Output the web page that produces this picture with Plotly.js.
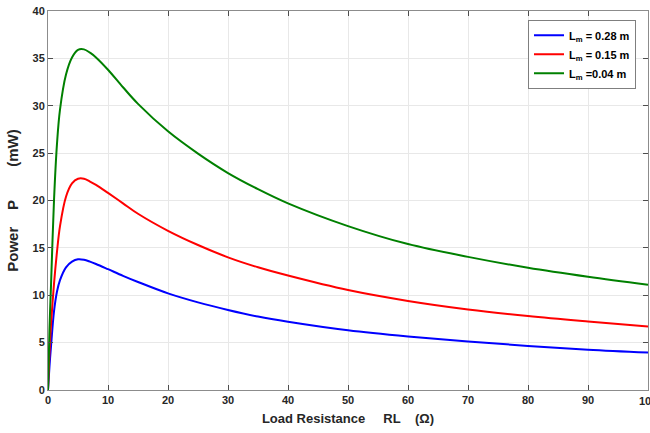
<!DOCTYPE html>
<html>
<head>
<meta charset="utf-8">
<script src="https://cdn.plot.ly/plotly-3.0.1.min.js"></script>
<style>html,body{margin:0;padding:0;background:#fff;}#chart{width:650px;height:433px;}</style>
</head>
<body>
<div id="chart"></div>
<script>
// Load resistance RL (Ohm)
const rl = [0, 0.25, 0.5, 1, 1.5, 2, 3, 4, 5, 6, 7, 8, 10, 12.5, 15, 20, 25, 30, 35, 40, 50, 60, 70, 80, 90, 100];
// Power P (mW) for each magnet length
const pLm028 = [0, 2.5, 4.6, 8.3, 10.4, 11.6, 12.95, 13.55, 13.8, 13.75, 13.55, 13.3, 12.75, 12.05, 11.4, 10.2, 9.25, 8.45, 7.75, 7.2, 6.3, 5.65, 5.12, 4.65, 4.25, 3.95];
const pLm015 = [0, 4.0, 6.9, 11.2, 14.6, 17.3, 20.4, 21.8, 22.3, 22.3, 22.0, 21.65, 20.8, 19.7, 18.6, 16.8, 15.3, 14.0, 12.95, 12.08, 10.55, 9.4, 8.5, 7.8, 7.22, 6.69];
const pLm004 = [0, 6.5, 11.0, 20.0, 26.0, 29.6, 33.3, 35.1, 35.9, 35.95, 35.6, 35.1, 33.8, 31.95, 30.2, 27.3, 24.95, 22.9, 21.2, 19.7, 17.3, 15.4, 14.05, 12.9, 11.95, 11.1];
const seriesNames = ['L<sub>m</sub> = 0.28 m', 'L<sub>m</sub> = 0.15 m', 'L<sub>m</sub> =0.04 m'];
const seriesColors = ['#0000ff', '#ff0000', '#008000'];
const xTicks = [0, 10, 20, 30, 40, 50, 60, 70, 80, 90, 100];
const yTicks = [0, 5, 10, 15, 20, 25, 30, 35, 40];

const ys = [pLm028, pLm015, pLm004];
const traces = ys.map((y, i) => ({
  x: rl, y: y, type: 'scatter', mode: 'lines', name: seriesNames[i],
  line: {color: seriesColors[i], width: 2, shape: 'spline', smoothing: 1}
}));

const fam = 'Liberation Sans, Arial, sans-serif';
const tickFont = {family: fam, size: 11, color: '#262626', weight: 'bold'};
const sp = n => '\u00a0'.repeat(n);
const axisCommon = {
  showline: true, linecolor: '#8c8c8c', linewidth: 1, mirror: 'ticks',
  ticks: 'inside', ticklen: 5, tickcolor: '#4d4d4d', tickwidth: 1,
  showgrid: true, gridcolor: '#e8e8e8', gridwidth: 1, zeroline: false,
  tickfont: tickFont
};
const layout = {
  width: 650, height: 433,
  margin: {l: 48, r: 2, t: 11, b: 43},
  paper_bgcolor: '#ffffff', plot_bgcolor: '#ffffff',
  showlegend: true,
  legend: {
    x: 0.98, y: 0.977, xanchor: 'right', yanchor: 'top',
    bgcolor: '#ffffff', bordercolor: '#7f7f7f', borderwidth: 1,
    font: {family: fam, size: 11, color: '#000', weight: 'bold'},
    tracegroupgap: 0
  },
  annotations: [{
    x: xTicks[xTicks.length - 1], y: 0, xref: 'x', yref: 'paper',
    text: String(xTicks[xTicks.length - 1]), showarrow: false,
    xanchor: 'center', yanchor: 'top', yshift: -3,
    font: tickFont
  }],
  xaxis: Object.assign({}, axisCommon, {
    range: [0, 100], tickvals: xTicks, ticktext: xTicks.map(String),
    title: {text: 'Load Resistance' + sp(5) + 'RL' + sp(4) + '(Ω)', standoff: 8,
      font: {family: fam, size: 13, color: '#262626', weight: 'bold'}}
  }),
  yaxis: Object.assign({}, axisCommon, {
    range: [0, 40], tickvals: yTicks, ticktext: yTicks.map(String),
    title: {text: 'Power' + sp(4) + 'P' + sp(8) + '(mW)', standoff: 10,
      font: {family: fam, size: 15, color: '#262626', weight: 'bold'}}
  })
};
Plotly.newPlot('chart', traces, layout, {displayModeBar: false, staticPlot: true});
</script>
</body>
</html>
